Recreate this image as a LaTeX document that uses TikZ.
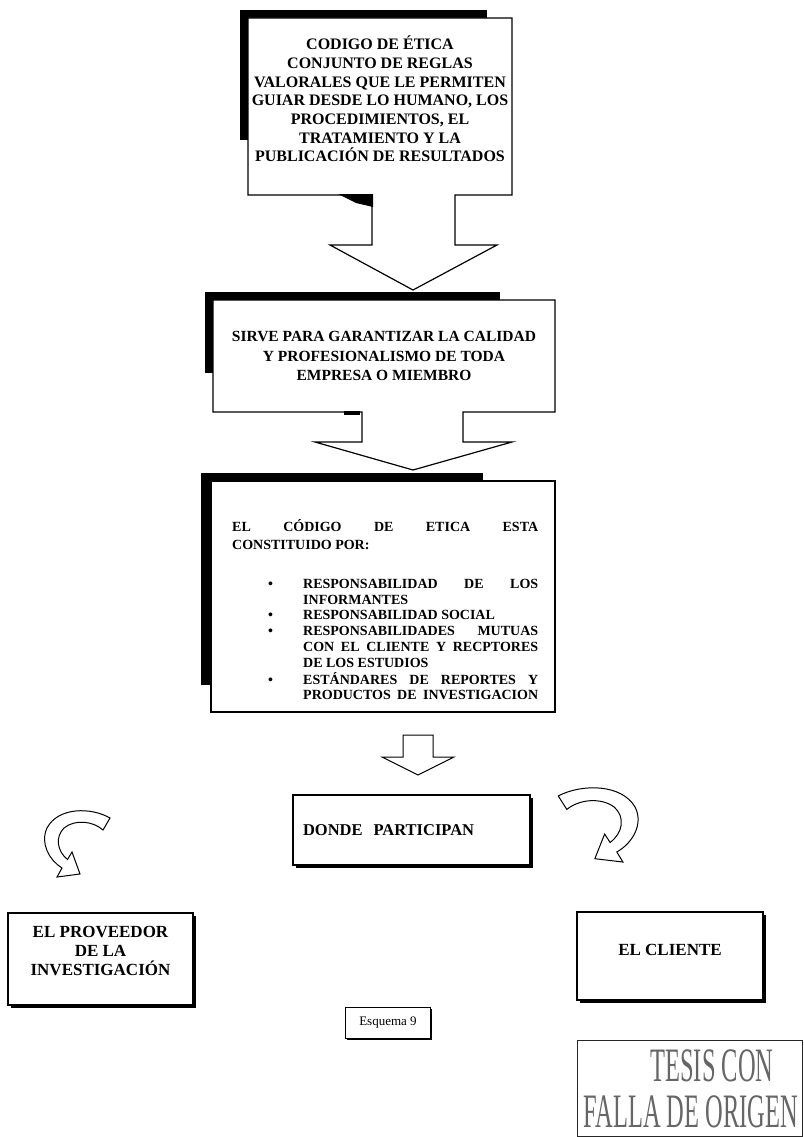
\documentclass[tikz,border=0pt]{standalone}
\usepackage{fontspec}
\setmainfont{Liberation Serif}
\usetikzlibrary{shadows}
\begin{document}
\begin{tikzpicture}[x=1pt,y=-1pt,
  outline/.style={draw=black, line width=1.2pt, fill=white, line join=miter},
  shadowbar/.style={fill=black},
  bigtext/.style={font=\bfseries\fontsize{16}{18.7}\selectfont, align=center, inner sep=0pt},
  midtext/.style={font=\bfseries\fontsize{15.5}{19.5}\selectfont, align=center, inner sep=0pt},
  listtext/.style={font=\bfseries\fontsize{14}{15.8}\selectfont, inner sep=0pt},
  plainbox/.style={draw=black, line width=1.1pt, fill=white, inner sep=0pt,
    general shadow={fill=black, shadow xshift=2.5pt, shadow yshift=-2.5pt}},
  boxlabel/.style={font=\bfseries\fontsize{17}{19}\selectfont, inner sep=0pt, align=center},
  bendarrow/.pic={
    \draw[line width=1pt, fill=white, line join=miter]
      (67,8) .. controls (48,-3) and (15,-3) .. (4,18)
      .. controls (-3,33) and (6,50) .. (19,58)
      -- (14,67) -- (37,64) -- (29,42) -- (24.5,49.5)
      .. controls (14,41) and (12,27) .. (21,18)
      .. controls (32,9) and (50,11) .. (60,20) -- cycle;
  }
]
\useasboundingbox (0,0) rectangle (803,1137);
\fill[white] (0,0) rectangle (803,1137);

% ---- first callout: code of ethics ----
\fill[shadowbar] (240,10) rectangle (487,18);
\fill[shadowbar] (240,10) rectangle (248,140);
\draw[outline] (248,18) -- (512,18) -- (512,195) -- (455,195) -- (455,245)
  -- (497,245) -- (413,290) -- (330,245) -- (372,245) -- (372,195)
  -- (248,195) -- cycle;
\fill[shadowbar] (338,194) -- (373,194) -- (373,207) -- (356,203) -- cycle;
\node[bigtext] (codigo) at (380,99) {CODIGO DE ÉTICA\\CONJUNTO DE REGLAS\\VALORALES QUE LE PERMITEN\\GUIAR DESDE LO HUMANO, LOS\\PROCEDIMIENTOS, EL\\TRATAMIENTO Y LA\\PUBLICACIÓN DE RESULTADOS};

% ---- second callout ----
\fill[shadowbar] (205,292) rectangle (500,300);
\fill[shadowbar] (205,292) rectangle (213,373);
\draw[outline] (213,300) -- (555,300) -- (555,412) -- (463,412) -- (463,442)
  -- (512,442) -- (413,470) -- (315,442) -- (362,442) -- (362,412)
  -- (213,412) -- cycle;
\fill[shadowbar] (344,411) rectangle (360,415);
\node[midtext] (sirve) at (384,356) {SIRVE PARA GARANTIZAR LA CALIDAD\\Y PROFESIONALISMO DE TODA\\EMPRESA O MIEMBRO};

% ---- third box: contents of the code ----
\fill[shadowbar] (201,473) rectangle (483,481);
\fill[shadowbar] (201,473) rectangle (211,685);
\draw[outline] (211,481) rectangle (555,712);
\node[inner sep=0pt, font=\bfseries\fontsize{14}{18}\selectfont, anchor=north west, align=left] (intro) at (232,519)
  {\makebox[306pt][s]{EL CÓDIGO DE ETICA ESTA}\\CONSTITUIDO POR:};
\node[listtext, anchor=north west] (items) at (268,577) {%
  \begin{tabular}{@{}p{35pt}@{}l@{}}
  •& \makebox[235pt][s]{RESPONSABILIDAD DE LOS}\\
   & INFORMANTES\\
  •& RESPONSABILIDAD SOCIAL\\
  •& \makebox[235pt][s]{RESPONSABILIDADES MUTUAS}\\
   & \makebox[235pt][s]{CON EL CLIENTE Y RECPTORES}\\
   & DE LOS ESTUDIOS\\
  •& \makebox[235pt][s]{ESTÁNDARES DE REPORTES Y}\\
   & \makebox[235pt][s]{PRODUCTOS DE INVESTIGACION}
  \end{tabular}};

% ---- lower boxes ----
\node[plainbox, minimum width=237pt, minimum height=70pt, text width=217pt, align=left,
  font=\bfseries\fontsize{16.5}{19}\selectfont] (donde) at (411.5,830) {DONDE\ \ PARTICIPAN};
\node[plainbox, minimum width=185pt, minimum height=92pt] (prov) at (100.5,959) {};
\node[boxlabel] (provtext) at (100.5,951) {EL PROVEEDOR\\DE LA\\INVESTIGACIÓN};
\node[plainbox, minimum width=186pt, minimum height=88pt] (cliente) at (670,956) {};
\node[boxlabel] (clientetext) at (670,950) {EL CLIENTE};

% block arrow from the third box down to "DONDE PARTICIPAN"
\coordinate (a0) at (418,735);
\draw[line width=1pt, fill=white, line join=miter]
  ([xshift=-15pt]a0) -- ([xshift=15pt]a0) -- ([xshift=15pt,yshift=-22pt]a0)
  -- ([xshift=36pt,yshift=-22pt]a0) -- ([yshift=-40pt]a0)
  -- ([xshift=-36pt,yshift=-22pt]a0) -- ([xshift=-15pt,yshift=-22pt]a0) -- cycle;

% curved arrows towards the two participants
\pic at (43,810) {bendarrow};
\pic[xscale=-1.22, yscale=1.12] at (640,787) {bendarrow};

% ---- caption ----
\node[draw=black, line width=0.8pt, fill=white, minimum width=85pt, minimum height=31pt,
  font=\fontsize{13}{15}\selectfont,
  general shadow={fill=black, shadow xshift=1pt, shadow yshift=-1pt}] (esquema) at (388,1023) {Esquema 9};

% ---- stamp ----
\draw[line width=0.8pt, draw=black!85] (577,1040) rectangle (802.5,1136.5);
\node[inner sep=0pt, text=black!60, font=\fontsize{48}{50}\selectfont] (tesis) at (712,1066)
  {\scalebox{0.51}[1]{TESIS CON}};
\node[inner sep=0pt, text=black!60, font=\fontsize{48}{50}\selectfont] (falla) at (691,1112)
  {\scalebox{0.51}[1]{FALLA DE ORIGEN}};
\end{tikzpicture}
\end{document}
